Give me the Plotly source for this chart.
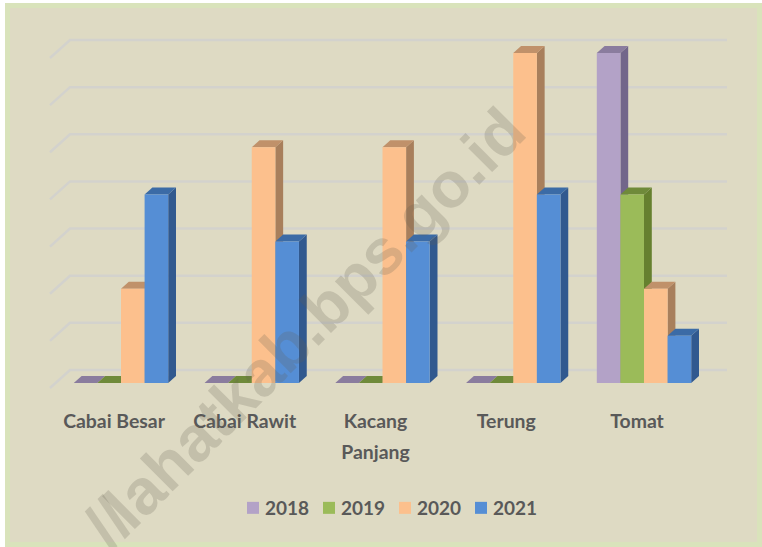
import plotly.graph_objects as go

categories = ["Cabai Besar", "Cabai Rawit", "Kacang Panjang", "Terung", "Tomat"]
tick_labels = ["Cabai Besar", "Cabai Rawit", "Kacang<br>Panjang", "Terung", "Tomat"]
years = ["2018", "2019", "2020", "2021"]
v2018 = [0, 0, 0, 0, 7]
v2019 = [0, 0, 0, 0, 4]
v2020 = [2, 5, 5, 7, 2]
v2021 = [4, 3, 3, 4, 1]
series = [v2018, v2019, v2020, v2021]
front = ["#b3a2c7", "#9bbb59", "#fcc08d", "#558ed5"]
side = ["#72668a", "#66802f", "#a87f5c", "#31598f"]
top = ["#8a7c9e", "#6f8a3a", "#c0916a", "#3b6ba6"]

W, H = 762, 547
L, R, T, B = 40, 742, 30, 397
PX_X = 130.75
PX_Y = 47.14
X0 = 121.0
Y0 = 383.0
bar_w = 23.6 / PX_X
dx = 7.8 / PX_X
dy = 7.0 / PX_Y
xs = list(range(len(categories)))

fig = go.Figure()
for k, y in enumerate(years):
    fig.add_trace(go.Bar(name=y, x=xs, y=series[k], marker=dict(color=front[k], line=dict(width=0)),
                         hoverinfo="skip"))

shapes = [
    dict(type="rect", xref="paper", yref="paper", x0=(5 - L) / (R - L), x1=(W + 5 - L) / (R - L),
         y0=(B - H - 5) / (B - T), y1=(B - 3) / (B - T), fillcolor="#d9e3bb", line_width=0, layer="below"),
    dict(type="rect", xref="paper", yref="paper", x0=(10 - L) / (R - L), x1=(757 - L) / (R - L),
         y0=(B - 542) / (B - T), y1=(B - 8) / (B - T), fillcolor="#dedac3", line_width=0, layer="below"),
]
g_x = [(50 - X0) / PX_X, (70 - X0) / PX_X, (727 - X0) / PX_X]
g_front, g_back = (Y0 - 388) / PX_Y, (Y0 - 370) / PX_Y
for lv in range(8):
    shapes.append(dict(type="path", xref="x", yref="y", layer="below",
                       path=f"M{g_x[0]},{lv + g_front} L{g_x[1]},{lv + g_back} L{g_x[2]},{lv + g_back}",
                       line=dict(color="#d3d2cd", width=2.5)))
n = len(series)
for i in xs:
    for k in range(n):
        v = series[k][i]
        x0 = i + (k - n / 2) * bar_w
        x1 = x0 + bar_w
        shapes.append(dict(type="path", xref="x", yref="y", layer="below", line_width=0, fillcolor=side[k],
                           path=f"M{x1},0 L{x1 + dx},{dy} L{x1 + dx},{v + dy} L{x1},{v} Z"))
        shapes.append(dict(type="path", xref="x", yref="y", layer="below", line_width=0, fillcolor=top[k],
                           path=f"M{x0},{v} L{x1},{v} L{x1 + dx},{v + dy} L{x0 + dx},{v + dy} Z"))

wm_font = dict(size=64, family="Liberation Sans", weight=700, color="rgba(100,95,80,0.22)")
def wm(text, px, py):
    return dict(text=text, xref="paper", yref="paper", x=(px - L) / (R - L), y=(B - py) / (B - T),
                xanchor="center", yanchor="middle", textangle=-45, showarrow=False, font=wm_font)

label_font = "font-size:19.4px"
fig.update_layout(
    width=W, height=H, autosize=False,
    margin=dict(l=L, r=W - R, t=T, b=H - B, pad=0),
    paper_bgcolor="white", plot_bgcolor="rgba(0,0,0,0)",
    barmode="group", bargap=1 - n * bar_w, bargroupgap=0, showlegend=True,
    font=dict(family="Lato", color="#595959"),
    xaxis=dict(range=[(L - X0) / PX_X, (R - X0) / PX_X], showgrid=False, zeroline=False, showline=False,
               tickmode="array", tickvals=[i - 7 / PX_X for i in xs],
               ticktext=[f'<span style="{label_font}">' + t.replace("<br>", f'</span><br><span style="{label_font}">') + "</span>"
                         for t in tick_labels],
               tickfont=dict(size=24, family="Lato", color="#595959", weight=700),
               ticks="", ticklabelstandoff=6),
    yaxis=dict(range=[(Y0 - B) / PX_Y, (Y0 - T) / PX_Y], visible=False),
    legend=dict(orientation="h", x=(225 - L) / (R - L), y=(B - 508) / (B - T), xanchor="left", yanchor="middle",
                font=dict(size=19, family="Lato", color="#595959", weight=700),
                bgcolor="rgba(0,0,0,0)", itemwidth=30, entrywidth=31, entrywidthmode="pixels",
                itemclick=False, itemdoubleclick=False),
    shapes=shapes,
    annotations=[wm("lahatkab.bps.go.id", 315, 318), wm("//", 108, 523)],
)
post = """
document.body.style.margin='0';document.body.style.overflow='hidden';
function fixLegend(){
  document.querySelectorAll('.legend .scrollbox').forEach(function(g){g.removeAttribute('clip-path');g.style.clipPath='none';});
  document.querySelectorAll('.legend .legendpoints').forEach(function(g){g.setAttribute('transform','translate(8,0)');});
}
fixLegend();setTimeout(fixLegend,0);setTimeout(fixLegend,100);
"""
fig.write_html("out.html", post_script=post, config={"displayModeBar": False})
